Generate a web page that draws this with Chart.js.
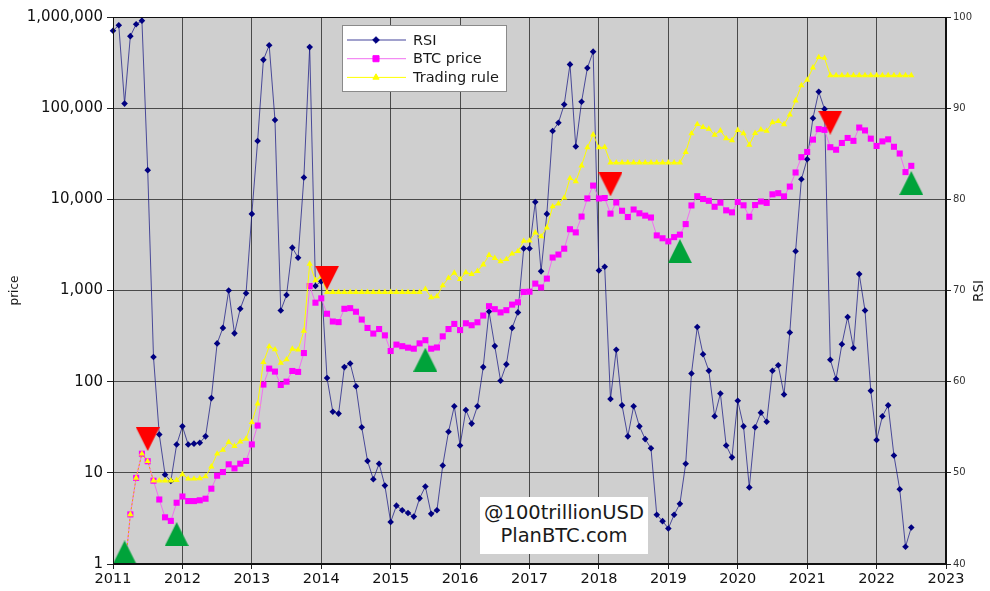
<!DOCTYPE html>
<html>
<head>
<meta charset="utf-8">
<script src="https://cdn.jsdelivr.net/npm/chart.js@4.4.1/dist/chart.umd.min.js"></script>
<style>
    body { margin: 0; background: #fff; }
    #wrap { position: relative; width: 990px; height: 591px; font-family: 'DejaVu Sans', sans-serif; }
    #stamp {
        position: absolute; left: 480px; top: 497px; width: 168px; height: 57px;
        background: #fff; color: #1a1a1a; text-align: center;
        font-size: 19.5px; line-height: 23px; padding-top: 4px; box-sizing: border-box;
    }
    #rsiTitle {
        position: absolute; left: 978px; top: 291px; color: #1a1a1a;
        font-size: 13.5px; white-space: nowrap;
        transform: translate(-50%, -50%) rotate(-90deg);
    }
</style>
</head>
<body>
<div id="wrap">
    <canvas id="chart" width="990" height="591"></canvas>
    <div id="stamp">@100trillionUSD<br>PlanBTC.com</div>
    <div id="rsiTitle">RSI</div>
</div>
<script>
// Monthly series, Jan 2011 .. Jul 2022 (one value per month)
const startYear = 2011;

const yearTicks = [2011, 2012, 2013, 2014, 2015, 2016, 2017, 2018, 2019, 2020, 2021, 2022, 2023];
const priceTicks = [1, 10, 100, 1000, 10000, 100000, 1000000];
const rsiTicks = [40, 50, 60, 70, 80, 90, 100];

const rsi = [
    98.5, 99.1, 90.5, 97.9, 99.2, 99.6, 83.2, 62.7, 54.2, 49.8, 49.1, 53.1,
    55.1, 53.1, 53.2, 53.3, 54.0, 58.2, 64.2, 65.9, 70.0, 65.3, 68.0, 69.7,
    78.4, 86.4, 95.3, 96.9, 88.7, 67.8, 69.5, 74.7, 73.6, 82.4, 96.7, 70.5,
    71.0, 60.4, 56.7, 56.5, 61.6, 62.0, 59.5, 55.0, 51.3, 49.3, 51.0, 48.6,
    44.6, 46.4, 45.9, 45.6, 45.2, 47.2, 48.5, 45.5, 45.9, 50.8, 54.5, 57.3,
    53.0, 56.9, 55.4, 57.3, 61.6, 67.7, 63.9, 60.1, 61.9, 65.9, 67.6, 74.6,
    74.6, 79.7, 72.1, 78.4, 87.5, 88.4, 90.4, 94.8, 85.8, 90.7, 94.4, 96.2,
    72.2, 72.6, 58.1, 63.5, 57.4, 54.0, 57.3, 55.1, 53.7, 52.7, 45.4, 44.7,
    43.9, 45.4, 46.6, 51.0, 60.9, 66.0, 63.0, 61.2, 56.2, 58.7, 53.0, 51.7,
    57.9, 55.1, 48.4, 55.0, 56.6, 55.6, 61.2, 61.8, 58.6, 65.4, 74.3, 82.2,
    84.4, 88.9, 91.8, 89.9, 62.4, 60.3, 64.1, 67.1, 63.7, 71.8, 67.8, 59.0,
    53.6, 56.2, 57.4, 51.9, 48.2, 41.9, 44.0
];

const btcPrice = [
    null, null, 0.8, 3.5, 8.8, 16.2, 13.4, 8.2, 5.1, 3.25, 2.97, 4.7,
    5.5, 4.9, 4.9, 5.0, 5.2, 6.7, 9.3, 10.2, 12.4, 11.2, 12.6, 13.5,
    20.5, 33, 93, 139, 129, 92, 100, 131, 128, 206, 1120, 735,
    820, 556, 457, 450, 630, 640, 585, 480, 388, 337, 378, 322,
    217, 255, 245, 236, 230, 263, 285, 230, 237, 314, 378, 430,
    368, 437, 416, 448, 531, 673, 624, 575, 608, 700, 742, 964,
    970, 1190, 1080, 1350, 2300, 2480, 2875, 4700, 4340, 6470, 10230, 14150,
    10220, 10330, 6970, 9240, 7490, 6400, 7730, 7030, 6625, 6320, 4020, 3740,
    3460, 3850, 4100, 5350, 8570, 10820, 10080, 9630, 8290, 9200, 7570, 7200,
    9350, 8600, 6440, 8660, 9460, 9140, 11350, 11680, 10780, 13800, 19700, 29000,
    33100, 45200, 58900, 57800, 37300, 35000, 41500, 47100, 43800, 61300, 57000, 46300,
    38500, 43200, 45500, 37700, 31800, 19900, 23300
];

const tradingRule = [
    null, null, 0.8, 3.5, 8.8, 16.2, 13.4, 8.2, 8.2, 8.2, 8.2, 8.3,
    9.6, 8.6, 8.6, 8.7, 9.1, 11.7, 16.2, 17.8, 21.7, 19.6, 22.0, 23.6,
    35.9, 57.5, 163, 243, 225, 160, 175, 229, 224, 360, 1960, 1290,
    1430, 960, 960, 960, 960, 960, 960, 960, 960, 960, 960, 960,
    960, 960, 960, 960, 960, 960, 1036, 840, 860, 1135, 1370, 1560,
    1330, 1580, 1510, 1630, 1920, 2440, 2260, 2080, 2200, 2530, 2690, 3490,
    3510, 4310, 3910, 4890, 8330, 8980, 10400, 17000, 15700, 23400, 37000, 51200,
    37000, 37400, 25250, 25250, 25250, 25250, 25250, 25250, 25250, 25250, 25250, 25250,
    25250, 25250, 25250, 32900, 52700, 66500, 62000, 59200, 51000, 56600, 46600, 44300,
    57500, 52900, 39600, 53300, 58200, 56200, 69800, 71800, 66300, 84900, 121000, 178000,
    204000, 278000, 362000, 355000, 229000, 229000, 229000, 229000, 229000, 229000, 229000, 229000,
    229000, 229000, 229000, 229000, 229000, 229000, 229000
];

// Signal markers: month index and price level
const sellMonths = [6, 37, 86, 124];
const sellLevels = [23.5, 1380, 14600, 69500];
const buyMonths = [2, 11, 54, 98, 138];
const buyLevels = [1.34, 2.13, 174, 2700, 15100];

const monthToX = i => startYear + i / 12;
const toPoints = arr => arr.map((v, i) => ({ x: monthToX(i), y: v }));
const toSignals = (months, levels) => months.map((m, i) => ({ x: monthToX(m), y: levels[i] }));

// Matplotlib-like triangles (as wide as tall)
function makeTriangle(color, pointingDown) {
    const c = document.createElement('canvas');
    c.width = 24;
    c.height = 24;
    const g = c.getContext('2d');
    g.fillStyle = color;
    g.beginPath();
    if (pointingDown) {
        g.moveTo(0, 0); g.lineTo(24, 0); g.lineTo(12, 24);
    } else {
        g.moveTo(12, 0); g.lineTo(24, 24); g.lineTo(0, 24);
    }
    g.closePath();
    g.fill();
    return c;
}

const FONT = "'DejaVu Sans', sans-serif";
const gridColor = 'rgba(40, 40, 40, 0.8)';
Chart.defaults.font.family = FONT;

// Gray plot background and frame
const plotFrame = {
    id: 'plotFrame',
    beforeDraw(chart) {
        const a = chart.chartArea;
        const ctx = chart.ctx;
        ctx.save();
        ctx.fillStyle = '#cfcfcf';
        ctx.fillRect(a.left, a.top, a.right - a.left, a.bottom - a.top);
        ctx.restore();
    },
    afterDatasetsDraw(chart) {
        const a = chart.chartArea;
        const ctx = chart.ctx;
        ctx.save();
        ctx.strokeStyle = '#111';
        ctx.lineWidth = 1;
        ctx.strokeRect(a.left + 0.5, a.top + 0.5, a.right - a.left - 1, a.bottom - a.top - 1);
        ctx.restore();
    }
};

// Legend box with line + marker samples
const boxLegend = {
    id: 'boxLegend',
    afterDatasetsDraw(chart) {
        const ctx = chart.ctx;
        ctx.save();
        ctx.fillStyle = '#fff';
        ctx.fillRect(342, 25, 164, 66);
        ctx.strokeStyle = '#8a8a8a';
        ctx.lineWidth = 1;
        ctx.strokeRect(342.5, 25.5, 164, 66);
        ctx.font = '14.5px ' + FONT;
        ctx.textBaseline = 'middle';
        chart.data.datasets.slice(0, 3).forEach((ds, i) => {
            const y = 40 + i * 18.7;
            ctx.strokeStyle = ds.borderColor;
            ctx.lineWidth = 1;
            ctx.beginPath();
            ctx.moveTo(347, y);
            ctx.lineTo(406, y);
            ctx.stroke();
            ctx.fillStyle = ds.pointBackgroundColor;
            ctx.strokeStyle = ds.pointBackgroundColor;
            Chart.helpers.drawPoint(ctx, {
                pointStyle: ds.pointStyle, radius: ds.pointRadius, rotation: 0, borderWidth: 1
            }, 376, y);
            ctx.fillStyle = '#1a1a1a';
            ctx.fillText(ds.label, 413, y + 1);
        });
        ctx.restore();
    }
};

const earlyOverlap = c => c.p1DataIndex <= 7;

new Chart(document.getElementById('chart'), {
    type: 'line',
    data: {
        datasets: [
            {
                label: 'RSI',
                data: toPoints(rsi),
                yAxisID: 'rsi',
                borderColor: 'rgba(20, 20, 130, 0.8)',
                borderWidth: 0.9,
                pointStyle: 'rectRot',
                pointRadius: 3.3,
                pointBackgroundColor: '#000080',
                pointBorderColor: '#000080',
                pointBorderWidth: 0,
                clip: false,
                order: 3
            },
            {
                label: 'BTC price',
                data: toPoints(btcPrice),
                yAxisID: 'y',
                borderColor: '#f070f0',
                borderWidth: 1,
                pointStyle: 'rect',
                pointRadius: 4.3,
                pointBackgroundColor: '#ff00ff',
                pointBorderColor: '#ff00ff',
                pointBorderWidth: 0,
                clip: { left: 10, right: 10, top: 10, bottom: 0 },
                order: 2
            },
            {
                label: 'Trading rule',
                data: toPoints(tradingRule),
                yAxisID: 'y',
                borderColor: '#ffff00',
                borderWidth: 1,
                pointStyle: 'triangle',
                pointRadius: 3.6,
                pointBackgroundColor: '#ffff00',
                pointBorderColor: '#ffff00',
                pointBorderWidth: 0,
                segment: {
                    borderColor: c => earlyOverlap(c) ? '#f5a300' : undefined,
                    borderDash: c => earlyOverlap(c) ? [2, 2] : undefined
                },
                clip: { left: 10, right: 10, top: 10, bottom: 0 },
                order: 1
            },
            {
                label: 'sell',
                data: toSignals(sellMonths, sellLevels),
                yAxisID: 'y',
                showLine: false,
                pointStyle: makeTriangle('#ff0000', true),
                pointRadius: 12,
                clip: false,
                order: 0
            },
            {
                label: 'buy',
                data: toSignals(buyMonths, buyLevels),
                yAxisID: 'y',
                showLine: false,
                pointStyle: makeTriangle('#00a33a', false),
                pointRadius: 12,
                clip: false,
                order: 0
            }
        ]
    },
    options: {
        responsive: false,
        animation: false,
        devicePixelRatio: 1,
        layout: { padding: { top: 17, left: 0, right: 0, bottom: 0 } },
        plugins: {
            legend: { display: false },
            tooltip: { enabled: false }
        },
        scales: {
            x: {
                type: 'linear',
                min: 2011,
                max: 2023,
                afterBuildTicks: axis => { axis.ticks = yearTicks.map(v => ({ value: v })); },
                ticks: {
                    callback: v => String(v),
                    color: '#111',
                    font: { size: 14.5 },
                    padding: 2,
                    maxRotation: 0,
                    autoSkip: false
                },
                grid: { color: gridColor, tickLength: 5, tickColor: '#222' },
                border: { color: '#111' },
                afterFit: s => { s.height = 27; }
            },
            y: {
                type: 'logarithmic',
                position: 'left',
                min: 1,
                max: 1000000,
                afterBuildTicks: axis => { axis.ticks = priceTicks.map(v => ({ value: v })); },
                ticks: {
                    callback: v => Number(v).toLocaleString('en-US'),
                    color: '#111',
                    font: { size: 15 },
                    padding: 4,
                    autoSkip: false
                },
                grid: { color: gridColor, tickLength: 6, tickColor: '#222' },
                border: { color: '#111' },
                title: {
                    display: true,
                    text: 'price',
                    color: '#1a1a1a',
                    font: { size: 12 },
                    padding: { top: 8, bottom: 0 }
                },
                afterFit: s => { s.width = 113; }
            },
            rsi: {
                type: 'linear',
                position: 'right',
                min: 40,
                max: 100,
                afterBuildTicks: axis => { axis.ticks = rsiTicks.map(v => ({ value: v })); },
                ticks: {
                    color: '#333',
                    font: { size: 10 },
                    padding: 2
                },
                grid: { drawOnChartArea: false, tickLength: 5, tickColor: '#222' },
                border: { color: '#111' },
                afterFit: s => { s.width = 44; }
            }
        }
    },
    plugins: [plotFrame, boxLegend]
});
</script>
</body>
</html>
